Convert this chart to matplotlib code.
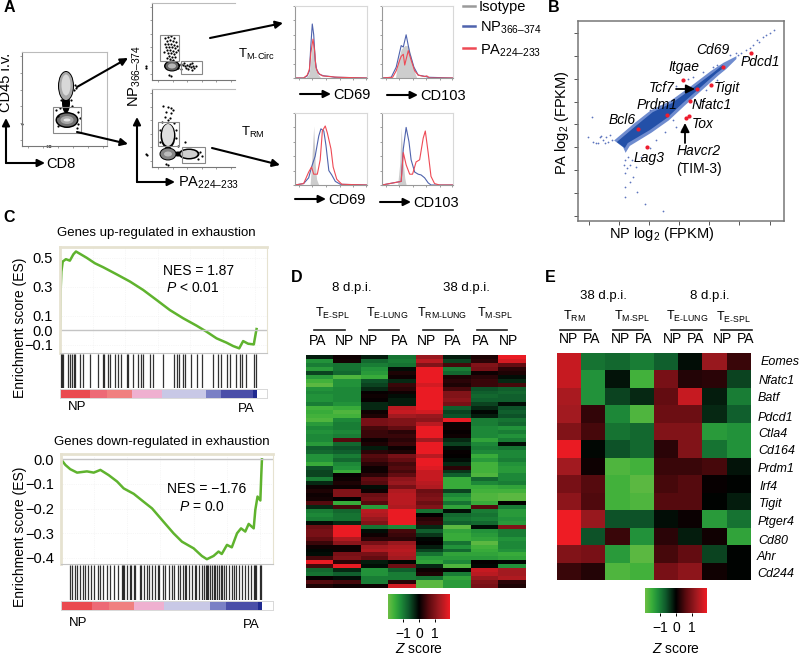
import matplotlib
matplotlib.use('Agg')
import matplotlib.pyplot as plt
from matplotlib.colors import LinearSegmentedColormap
from matplotlib.patches import Ellipse, Rectangle
import numpy as np

plt.rcParams['font.family'] = ['Liberation Sans', 'DejaVu Sans']
plt.rcParams['mathtext.fontset'] = 'custom'
plt.rcParams['mathtext.rm'] = 'Liberation Sans'
plt.rcParams['mathtext.it'] = 'Liberation Sans:italic'
plt.rcParams['mathtext.default'] = 'regular'

W, H = 800, 657
GREEN_LINE = '#5fb32e'
BLUE = '#4f63ad'
RED = '#ee4a55'
GRAY = '#9a9a9a'

########### panel A data ##########################
gate_1 = [(53, 107, 28, 26)]
blobs_1 = [(66, 86, 16, 30, 'black'), (66, 103, 8, 20, 'black'), (67, 120, 23, 16, 'black'),
           (66, 86, 14, 28, '#a8a8a8'), (66, 85, 9, 21, '#d8d8d8'), (67, 120, 20, 13, '#707070'),
           (67, 120, 13, 8, '#a8a8a8'), (67, 120, 7, 3, '#e4e4e4')]
speck_1 = [(56, 110), (58, 126), (78, 112), (80, 118), (77, 128), (75, 85), (74, 90), (76, 88), (22, 124),
           (47, 146), (49, 146), (50, 146), (60, 108), (72, 106), (61, 100), (71, 100), (58, 116), (78, 124)]

gates_2 = [(160, 35, 19, 26), (181, 61, 21, 13)]
blobs_2 = [(172, 66, 16, 11, 'black'), (172, 66, 13, 9, '#666666'), (172, 66, 8, 5, '#b8b8b8')]
speck_2 = [(165, 38), (168, 37), (171, 36), (174, 38), (167, 41), (170, 40), (173, 41), (176, 42), (165, 44),
           (168, 44), (171, 44), (174, 45), (166, 47), (169, 47), (172, 47), (175, 48), (178, 50), (167, 50),
           (170, 50), (173, 51), (176, 52), (168, 53), (171, 53), (174, 54), (169, 56), (172, 57), (175, 57),
           (170, 59), (173, 60), (167, 58), (177, 46), (164, 52), (181, 64), (183, 65), (185, 66), (187, 65),
           (189, 66), (191, 67), (193, 66), (186, 68), (184, 63), (190, 64), (194, 68), (188, 69), (192, 63),
           (179, 65), (178, 68), (169, 75), (171, 76), (146, 66), (146, 68), (192, 70), (181, 69), (196, 66)]

gates_3 = [(158, 122, 21, 24), (182, 147, 23, 16)]
blobs_3 = [(168, 136, 15, 25, 'black'), (168, 154, 17, 13, 'black'), (189, 154, 21, 11, 'black'),
           (178, 154, 10, 5, 'black'), (168, 135, 12, 22, '#dedede'), (168, 154, 15, 11, '#858585'),
           (168, 154, 8, 5, '#bcbcbc'), (189, 154, 17, 8, '#cfcfcf')]
speck_3 = [(163, 106), (168, 107), (171, 108), (173, 110), (166, 112), (171, 113), (170, 118), (165, 117),
           (185, 142), (146, 154), (147, 155), (162, 122), (174, 123), (168, 120), (178, 146), (200, 152),
           (202, 156), (198, 159), (166, 164), (168, 165), (160, 130), (176, 130), (176, 138), (160, 142)]

hist_xs = [[[0, 15, 19, 21, 23, 25, 27, 29, 32, 36, 100], [0, 0, 5, 15, 40, 50, 42, 18, 5, 0, 0]],
           [[0, 19, 22, 27, 32, 37, 41, 46, 49, 100], [0, 0, 22, 40, 45, 45, 30, 8, 0, 0]],
           [[0, 21, 23, 26, 28, 30, 33, 100], [0, 0, 30, 82, 30, 8, 0, 0]],
           [[0, 22, 25, 27, 29, 32, 34, 100], [0, 0, 30, 80, 40, 10, 0, 0]]]
hist_np = [[[0, 12, 17, 20, 22, 24, 26, 28, 30, 34, 40, 50, 55, 60, 100], [0, 0, 3, 10, 45, 75, 60, 25, 12, 5, 3, 2, 1, 1, 0]],
           [[0, 13, 20, 27, 30, 34, 39, 45, 51, 62, 65, 100], [0, 1, 15, 45, 43, 60, 35, 15, 4, 2, 1, 0]],
           [[0, 12, 19, 23, 28, 33, 36, 40, 43, 47, 51, 56, 63, 100], [0, 2, 10, 25, 40, 68, 78, 75, 55, 20, 14, 5, 1, 0]],
           [[0, 27, 30, 34, 38, 41, 46, 51, 55, 60, 65, 69, 100], [0, 5, 50, 80, 60, 35, 18, 15, 14, 10, 3, 0, 0]]]
hist_pa = [[[0, 12, 17, 20, 22, 25, 27, 29, 32, 38, 48, 60, 100], [0, 0, 4, 12, 35, 54, 40, 15, 7, 3, 2, 1, 0]],
           [[0, 15, 20, 25, 27, 30, 32, 37, 41, 46, 51, 60, 63, 67, 100], [0, 1, 10, 25, 30, 33, 18, 38, 25, 10, 4, 2, 3, 0, 0]],
           [[0, 12, 19, 23, 26, 31, 35, 38, 42, 45, 50, 53, 58, 65, 100], [0, 2, 18, 25, 15, 15, 35, 75, 82, 72, 50, 25, 8, 1, 0]],
           [[0, 27, 30, 34, 39, 43, 48, 53, 58, 61, 65, 69, 74, 81, 100], [0, 5, 45, 28, 15, 15, 32, 35, 65, 75, 45, 12, 2, 0, 0]]]

########### panel B data ##########################
band_upper_x = [-5.36, -2.04, 0.61, 3.76, 7.24, 10.55, 12.2]
band_upper_y = [-3.85, -0.15, 2.69, 4.65, 7.93, 11.2, 12.95]
band_lower_x = [12.54, 11.2, 8.4, 5.58, 2.93, 0.11, -3.54, -4.03]
band_lower_y = [12.5, 11.2, 7.93, 4.65, 1.38, -1.24, -4.07, -5.16]
fringe_upper_x = [-5.8, -2.4, 0.3, 3.5, 7.0, 10.3, 12.4, 14.5]
fringe_upper_y = [-3.5, 0.3, 3.1, 5.1, 8.4, 11.7, 13.5, 14.9]
fringe_lower_x = [14.5, 12.8, 11.5, 8.7, 5.9, 3.3, 0.4, -3.2, -3.9, -4.3]
fringe_lower_y = [14.3, 12.1, 10.7, 7.4, 4.1, 0.9, -1.8, -4.7, -6.2, -5.0]
sparse_x = [-10.2, -9.4, -9.3, -8.5, -7.6, -7.9, -6.8, -7.1, -8.2, -6.2, -6.5, -8.8, -7.3, -4, -4, -3.2, -4, -2.7, -2,
            -0.6, 2.3, -2.9, -3.5, -3.6, -4.2, -3.2, -4, -2.2, -1.3, 0.1, 1.2, 2.6, 4.5, 5.4, 4, 7.8, 8.7, 11.2, 9.5,
            0.1, 1.8, 4.5, 6.5, 7.3, 9, 11.2, 10.6, 13.4, 14.5, 14.8, 15.3, 16.1, 17.2, 18.3, 19.4, 20.8, 20, 15.9,
            16.7, 17.9, 18.9]
sparse_y = [-2.7, 1.7, -3.8, -4.1, -3.4, -2.5, -3.8, -2.7, -2.8, -3.3, -2.3, -4, -4.1, -7.8, -10.7, -8.9, -13.6, -11.4,
            -14.7, -17.4, -19, -7.8, -7.1, -9.6, -8.9, -12.5, -15.8, -9.2, -7.1, -5.2, -3.4, -1.6, -0.5, -0.9, 0.9,
            4.6, 5.3, 9.7, 7.5, 3.1, 4, 8.4, 10, 10.4, 11.5, 12.9, 12.6, 15.1, 15.5, 15.1, 15.5, 16.2, 17.3, 18, 19.5,
            20.7, 20, 14.8, 16.6, 18.4, 19.1]
gene_x = [16.9, 12.3, 5.6, 8, 10.3, 6.85, 2.9, 6.7, 6.1, -1.9, -0.4]
gene_y = [15.5, 12.65, 9.8, 7.85, 8.6, 5.1, 1.96, 1.8, 1.4, -0.9, -4.9]
log_ticks_x = [-10, -5, 0, 5, 10, 15, 20]
log_ticks_y = [-20, -15, -10, -5, 0, 5, 10, 15, 20]

########### panel C data ##########################
up_rank = [0, 0.3, 0.7, 1.4, 3, 5, 6.8, 8.1, 11, 13.5, 17.7, 22, 28.7, 35.5, 42.2, 49, 55.7, 62.5, 69.3, 74.3, 79.4,
           84.5, 87.8, 90.9, 92.9, 95.4, 98.3, 99.3, 99.7]
up_es = [0, 0.267, 0.405, 0.474, 0.49, 0.48, 0.524, 0.543, 0.52, 0.50, 0.462, 0.434, 0.386, 0.336, 0.278, 0.209, 0.14,
         0.083, 0.032, -0.009, -0.055, -0.085, -0.108, -0.124, -0.074, -0.092, -0.097, -0.02, 0.009]
up_hits = [0.3, 0.8, 1.4, 4.2, 5.1, 5.9, 7.1, 7.6, 10.1, 11.8, 15.2, 19.4, 21.6, 22.3, 24.5, 25.3, 27.9, 29.6, 30.7,
           33.8, 34.6, 37.2, 39.7, 40.9, 42.2, 45.6, 47.3, 52.4, 57.8, 59.1, 60.5, 62.2, 63.3, 66.7, 69.3, 71.8, 77.7,
           80.2, 81.9, 84.5, 86.1, 89.5, 91.5, 92.2, 94.6, 98.3, 99.3]
down_rank = [0, 2.2, 4.6, 8, 12.9, 16.3, 19.6, 23.7, 27.9, 31.2, 36.2, 41.1, 45.3, 51, 56, 60.2, 66, 70.1, 72.6, 75.9,
             78.4, 80, 82.6, 85, 87.6, 89.6, 91.7, 93.4, 95.9, 96.7, 97.8, 99.2, 99.7, 100]
down_es = [0, -0.023, -0.04, -0.054, -0.049, -0.054, -0.043, -0.064, -0.09, -0.118, -0.14, -0.172, -0.199, -0.253,
           -0.3, -0.334, -0.361, -0.392, -0.405, -0.392, -0.374, -0.384, -0.347, -0.357, -0.3, -0.28, -0.293, -0.262,
           -0.28, -0.205, -0.151, -0.167, -0.057, 0]
down_hits = [4.3, 5.5, 7, 8.2, 9.5, 11, 12, 13.5, 15, 16.5, 18.5, 19.2, 21, 23, 24.5, 26.5, 28.5, 30.5, 31, 31.6, 33,
             34.5, 35, 36.3, 37, 39.5, 40, 41.5, 43, 44, 45.5, 47, 48.5, 49, 51, 52, 53.5, 55, 56, 58, 59, 60.5, 61.5,
             62, 63.5, 65, 66.5, 67, 68.5, 70, 71, 72, 72.5, 73.3, 74, 75, 76, 76.5, 77.5, 78.5, 79.5, 80, 81, 82,
             83.5, 85, 86, 87, 88.5, 90, 91.5, 93, 94.5, 96, 96.5, 97, 99, 99.6]
strip_edges = [0, 15.2, 23.7, 36.3, 51.5, 74.3, 81.9, 98, 100]
strip_colors = ['#ea4a4f', '#ed6a76', '#f08080', '#efb0d0', '#c8c8e6', '#7a80c5', '#4a4ea8', '#202a90']

########### panel D data ##########################
d_cols = ['PA', 'NP', 'NP', 'PA', 'NP', 'PA', 'PA', 'NP']
d_matrix = [
    [-0.2, 0.1, -0.2, -0.9, 1.2, -0.2, 0.2, 1.9], [-1.2, 0.15, -0.8, -1.0, 1.5, -0.5, 0.3, 1.7],
    [-1.0, -0.9, -1.0, -0.9, 1.0, 0.5, 1.0, 0.7], [-1.3, -0.9, -1.2, -0.1, 1.9, -1.0, 0.9, 0.3],
    [-0.5, -0.8, -1.3, 0.2, 1.9, -0.8, 0.1, 0.2], [-1.3, -1.7, -1.5, 0.1, 1.9, 0.2, 0.3, -0.1],
    [-1.6, -1.2, -0.6, -0.3, 1.9, 0.3, 0.4, -0.3], [-1.8, -1.2, -0.5, 0.4, 1.7, 0.2, 0.4, 0.5],
    [-1.2, -1.1, -0.3, 0.3, 1.9, 0.5, -0.6, -0.7], [-1.1, -1.1, 0.05, 0.1, 1.9, 1.0, -0.7, -0.8],
    [-1.2, -1.1, 0.1, -0.1, 1.9, 1.0, -0.8, -0.7], [-1.2, -1.1, 0.05, -0.2, 1.9, 1.1, -0.7, -0.7],
    [-1.0, -1.2, -0.3, -0.2, 1.9, 0.9, -0.5, -0.1], [-1.6, -1.5, -0.3, 1.5, 1.9, -0.7, -0.3, -0.6],
    [-1.5, -1.7, 0.1, 1.6, 1.7, -0.5, -0.05, -0.7], [-1.6, -1.6, 0.2, 1.3, 1.2, -0.6, -0.2, -0.6],
    [-1.7, -1.1, 0.9, 1.0, 1.1, 1.9, -1.0, -0.9], [-1.3, -1.0, 0.9, 1.0, 1.5, 0.1, -1.0, -0.8],
    [-1.1, -1.0, 0.5, 0.7, 1.9, 0.1, -1.1, -1.2], [-1.2, -1.1, 0.4, 0.3, 1.9, 0.05, -1.1, -1.0],
    [-1.1, -1.0, 0.4, 0.4, 1.9, 0.1, -1.1, -1.2], [-1.1, 0.6, 0.1, 0.3, 1.3, -0.3, -1.4, -1.0],
    [-1.3, -0.8, 0.2, 0.4, 1.9, -0.5, -1.1, -0.1], [-0.7, -0.6, -0.2, 0.1, 1.9, -0.1, -1.0, -0.9],
    [-0.8, -0.7, 0.3, 0.2, 1.9, 0.05, -1.1, -1.1], [-1.2, -1.0, 0.6, 0.9, 1.5, 0.02, -1.5, -1.1],
    [-1.2, -0.8, 0.5, 0.7, 1.9, -0.1, -1.3, -1.0], [-1.5, -1.1, 0.3, 0.5, 1.9, -0.3, -1.6, -1.2],
    [-0.6, -1.2, 0.1, 0.6, 1.8, 0.3, -1.6, -1.3], [-0.5, -1.5, 0.1, 0.5, 1.6, -0.4, -1.6, -1.3],
    [-0.5, 0.05, 0.3, 0.7, 1.6, -0.7, -1.7, -1.1], [-1.0, 0.1, 0.7, 1.1, 1.6, -1.5, -0.8, -1.1],
    [-0.3, 0.2, 0.6, 1.2, 1.5, -1.5, -1.1, -1.0], [0.1, 0.1, -0.1, 0.9, 1.4, -1.5, -1.5, -1.4],
    [0.2, 1.0, 0.1, 1.4, 0.8, -0.5, -1.6, -1.6], [0.1, 1.0, 0.8, 1.5, 0.9, -1.1, -1.7, -1.8],
    [0.15, 0.02, 0.9, 1.5, 1.0, -1.3, -1.7, -1.8], [0.6, -1.5, 0.6, 1.5, 0.8, -0.9, -1.5, 0.02],
    [-0.3, 0.5, -1.3, 1.4, 1.0, -1.4, 0.6, -1.0], [-1.0, -0.8, 1.5, 1.9, -0.9, -0.1, -1.0, -1.3],
    [-1.1, -0.9, 1.4, 1.9, 0.02, -0.8, -0.9, -1.3], [-1.0, -0.9, 1.2, 1.9, 0.3, -0.9, -1.0, -1.2],
    [-0.1, -0.3, 1.0, 1.9, 0.4, -0.7, -0.8, -1.3], [0.8, 1.9, -0.9, -1.1, -0.3, -1.8, -0.1, 1.0],
    [0.9, 1.9, -0.1, 0.5, -0.7, -1.4, -1.2, -1.0], [0.9, 1.9, 0.1, 0.4, -0.4, -1.5, -1.3, -1.0],
    [0.7, 1.4, 0.3, 0.3, -0.05, -1.5, -1.4, -1.2], [0.4, 1.1, 0.9, 1.2, 0.02, -0.9, -1.8, -1.1],
    [0.1, 0.1, 1.3, 1.4, -0.2, -1.2, -1.6, -1.1], [-0.05, 0.1, 1.4, 1.5, -0.5, -0.8, -1.5, -1.2],
    [-0.1, 0.9, 0.9, 1.4, -0.9, -1.4, -1.4, -1.5], [0.5, 1.0, 0.7, 1.3, -1.3, -1.3, -1.3, -1.4],
    [1.9, 0.3, -0.2, -0.05, -1.4, -1.1, 0.02, -0.05], [0.5, 1.9, -0.1, 0.8, -0.3, -1.7, -0.05, -1.2],
    [-0.8, -0.3, -1.2, -0.7, 0.1, -0.05, 1.6, 1.3], [-0.9, -0.7, -1.2, -1.0, 0.2, -1.0, 1.5, 1.3],
    [0.05, -0.1, -1.0, -1.0, -0.9, -1.4, 1.2, 1.4], [0.6, 0.5, -1.0, 0.3, -1.8, -1.3, 1.0, 0.3],
    [0.2, 0.1, 0.1, 1.7, -1.8, -1.3, 0.9, 0.2]]

########### panel E data ##########################
e_genes = ['Eomes', 'Nfatc1', 'Batf', 'Pdcd1', 'Ctla4', 'Cd164', 'Prdm1', 'Irf4', 'Tigit', 'Ptger4', 'Cd80', 'Ahr', 'Cd244']
e_cols = ['NP', 'PA', 'NP', 'PA', 'NP', 'PA', 'NP', 'PA']
e_matrix = [
    [1.6, -0.9, -0.8, -1.0, -0.7, -0.1, 1.2, 0.4],
    [1.6, -1.2, -0.15, -1.6, 0.9, 0.25, 0.3, -0.5],
    [1.35, -1.2, -0.5, -0.3, 0.7, 1.6, -0.2, -1.0],
    [1.3, 0.35, -1.1, -1.7, 0.8, 0.8, -0.3, -0.7],
    [1.0, 0.5, -0.9, -0.8, 1.0, 1.0, -1.3, -1.2],
    [1.9, -0.05, -0.6, -0.8, 0.3, 1.0, -0.9, -1.2],
    [1.3, 0.1, -1.7, -1.6, 0.4, 0.4, 0.5, -0.15],
    [0.9, 0.6, -1.6, -1.8, 0.5, 0.6, 0.05, -0.02],
    [1.1, 0.55, -1.6, -1.7, 0.6, 0.6, -0.02, -0.2],
    [1.95, 1.2, -0.6, -0.6, -0.1, 0.08, -1.3, -0.9],
    [1.95, -0.6, 0.4, -1.2, 0.3, -0.2, 0.12, -1.4],
    [1.0, 0.9, -1.3, -1.8, 0.5, 0.7, -0.5, -0.02],
    [0.4, 0.25, -1.7, -1.6, 0.9, 1.1, 0.12, -0.02]]
z_ticks = [-1, 0, 1]

cmap = LinearSegmentedColormap.from_list('gbr', [(0.0, '#6cbd45'), (0.1, '#3cb03a'), (0.2, '#1f8f3a'), (0.33, '#0f5a2c'),
                                                 (0.5, '#000000'), (0.67, '#5e0b10'), (0.83, '#a01a20'), (1.0, '#ee1c24')])


def px_axes(x0, y0, x1, y1):
    """axes from a pixel box, y counted from the top"""
    return fig.add_axes([x0 / W, 1 - y1 / H, (x1 - x0) / W, (y1 - y0) / H])


def flow_plot(box, gates, blobs, specks):
    x0, y0, x1, y1 = box
    ax = px_axes(x0, y0, x1, y1)
    ax.set_xlim(x0, x1)
    ax.set_ylim(y1, y0)
    for cx, cy, w, h, c in blobs:
        ax.add_patch(Ellipse((cx, cy), w, h, fc=c, ec='none'))
    sx, sy = zip(*specks)
    ax.scatter(sx, sy, s=2.5, c='black', lw=0, clip_on=False)
    for gx, gy, gw, gh in gates:
        ax.add_patch(Rectangle((gx, gy), gw, gh, fill=False, ec='#888888', lw=0.8))
    ax.set_xticks(np.linspace(x0 + 6, x1 - 4, 6))
    ax.set_yticks(np.linspace(y0 + 4, y1 - 6, 6))
    ax.tick_params(length=1.2, width=0.5, labelbottom=False, labelleft=False, color='#777777')
    for s in ax.spines.values():
        s.set_color('#bbbbbb')
        s.set_linewidth(0.8)
    ax.spines['left'].set_color('#777777')
    ax.spines['bottom'].set_color('#777777')
    ax.spines['right'].set_visible(box[2] < 120)
    return ax


def hist_plot(box, iso, np_h, pa_h):
    ax = px_axes(*box)
    ax.fill_between(iso[0], iso[1], color='#cdcdcd', lw=0)
    ax.plot(np_h[0], np_h[1], color=BLUE, lw=0.8)
    ax.plot(pa_h[0], pa_h[1], color=RED, lw=0.8)
    ax.set_xlim(0, 100)
    ax.set_ylim(0, 100)
    ax.set_xticks([5, 24, 43, 62, 81, 98])
    ax.set_yticks([0, 20, 40, 60, 80, 100])
    ax.tick_params(length=1.2, width=0.5, labelbottom=False, labelleft=False, color='#777777')
    for s in ax.spines.values():
        s.set_color('#d8d8d8')
        s.set_linewidth(0.8)
    ax.spines['left'].set_color('#999999')
    ax.spines['bottom'].set_color('#999999')


def gsea_plot(box_es, box_hits, box_strip, x_end, rank, es, hits, ylim, yticks, ylabels):
    ax = px_axes(*box_es)
    ax.plot(rank, es, color=GREEN_LINE, lw=1.8, solid_joinstyle='round')
    ax.axhline(0, color='#c4c4c4', lw=1)
    ax.set_xlim(0, x_end)
    ax.set_ylim(*ylim)
    ax.set_xticks(np.arange(0, 100, 16.5))
    ax.grid(color='#efefef', lw=0.5, ls=':')
    ax.set_yticks(yticks)
    ax.set_yticklabels(ylabels, fontsize=10.5)
    ax.tick_params(length=0, labelbottom=False, pad=5)
    for k in ['left', 'top']:
        ax.spines[k].set_color('#e6e2d0')
        ax.spines[k].set_linewidth(2)
    ax.spines['right'].set_color('#e6e2d0')
    ax.spines['bottom'].set_color('#c4c4c4')

    ax2 = px_axes(*box_hits)
    ax2.vlines(hits, 0, 1, color='black', lw=0.9, alpha=0.8)
    ax2.set_xlim(0, x_end)
    ax2.set_ylim(0, 1)
    ax2.axis('off')

    ax3 = px_axes(*box_strip)
    ax3.barh(0, np.diff(strip_edges), left=strip_edges[:-1], height=1, color=strip_colors, lw=0)
    ax3.set_xlim(0, x_end)
    ax3.set_ylim(-0.5, 0.5)
    ax3.set_xticks([])
    ax3.set_yticks([])
    for s in ax3.spines.values():
        s.set_color('#d8d8d8')
        s.set_linewidth(0.7)


def z_bar(box):
    ax = px_axes(*box)
    ax.imshow(np.linspace(-1.94, 1.94, 128).reshape(1, -1), aspect='auto', cmap=cmap, vmin=-1.94, vmax=1.94,
              extent=[-1.94, 1.94, 0, 1])
    ax.set_yticks([])
    ax.set_xticks(z_ticks)
    ax.set_xticklabels(['\u22121', '0', '1'], fontsize=10)
    ax.tick_params(length=2.5, width=0.7, pad=3)
    for s in ax.spines.values():
        s.set_visible(False)


fig = plt.figure(figsize=(W / 100, H / 100), dpi=100)

########### A ##########################
flow_plot((22, 52, 107, 146), gate_1, blobs_1, speck_1)
flow_plot((152, 3, 235, 80), gates_2, blobs_2, speck_2)
flow_plot((152, 89, 235, 167), gates_3, blobs_3, speck_3)

hist_boxes = [(295, 6, 367, 78), (382, 6, 453, 78), (295, 113, 367, 185), (382, 113, 453, 185)]
for i in range(4):
    hist_plot(hist_boxes[i], hist_xs[i], hist_np[i], hist_pa[i])

########### B ##########################
axb = px_axes(578, 21, 784, 221)
axb.fill(fringe_upper_x + fringe_lower_x, fringe_upper_y + fringe_lower_y, color='#6f8ccf', lw=0)
axb.fill(band_upper_x + band_lower_x, band_upper_y + band_lower_y, color='#2350a8', lw=0)
axb.scatter(sparse_x, sparse_y, s=1.6, color='#5d75bd', lw=0)
axb.scatter(gene_x, gene_y, s=9, color='#ee1c2e', lw=0, zorder=3)
axb.set_xlim(-11.8, 22.4)
axb.set_ylim(-21.1, 22.6)
axb.set_xticks(log_ticks_x)
axb.set_yticks(log_ticks_y)
axb.tick_params(labelbottom=False, labelleft=False, length=3, width=0.7, color='#555555')
for s in axb.spines.values():
    s.set_color('#777777')
    s.set_linewidth(1.1)

########### C ##########################
gsea_plot((60, 247, 267, 353), (60, 354, 267, 388), (60, 389, 267, 398), 105, up_rank, up_es, up_hits,
          (-0.156, 0.574), [0.5, 0.3, 0.1, 0.0, -0.1], ['0.5', '0.3', '0.1', '0.0', '\u22120.1'])
gsea_plot((61, 454, 273, 564), (61, 565, 273, 600), (61, 601, 273, 610), 105.5, down_rank, down_es, down_hits,
          (-0.4245, 0.0215), [0.0, -0.1, -0.2, -0.3, -0.4], ['0.0', '\u22120.1', '\u22120.2', '\u22120.3', '\u22120.4'])

########### D ##########################
axd = px_axes(305.5, 355, 525, 588)
axd.imshow(d_matrix, aspect='auto', cmap=cmap, vmin=-1.94, vmax=1.94, interpolation='nearest')
axd.axis('off')
z_bar((388, 594, 450, 619))

########### E ##########################
axe = px_axes(557, 353, 751, 580)
axe.imshow(e_matrix, aspect='auto', cmap=cmap, vmin=-1.94, vmax=1.94, interpolation='nearest')
axe.axis('off')
z_bar((645, 588, 707, 613))

########### labels and arrows in one pixel overlay ##########################
ov = fig.add_axes([0, 0, 1, 1], zorder=10)
ov.set_xlim(0, W)
ov.set_ylim(H, 0)
ov.axis('off')
ov.patch.set_alpha(0)


def txt(x, y, s, size=10, ha='center', **kw):
    ov.text(x, y, s, fontsize=size, ha=ha, va='center', **kw)


def arrow(x0, y0, x1, y1, lw=1.5, ms=11):
    ov.annotate('', xy=(x1, y1), xytext=(x0, y0),
                arrowprops=dict(arrowstyle='-|>', color='black', lw=lw, mutation_scale=ms, shrinkA=0, shrinkB=0))


for lab, x, y in [('A', 9, 8), ('B', 554, 7), ('C', 9, 217), ('D', 297, 278), ('E', 550, 278)]:
    txt(x, y, lab, size=11.5, fontweight='bold')

# A
txt(6, 82, 'CD45 i.v.', rotation=90, size=10.5)
arrow(6, 163, 6, 118)
arrow(6, 163, 45, 163)
txt(46, 164, 'CD8', ha='left', size=10.5)
txt(135, 76, 'NP$_{366\u2013374}$', rotation=90, size=10.5)
arrow(137, 182, 137, 117)
arrow(137, 182, 175, 182)
txt(178, 183, 'PA$_{224\u2013233}$', ha='left', size=10.5)
arrow(77, 87, 128, 58)
arrow(77, 132, 128, 144)
arrow(210, 38, 283, 23)
arrow(212, 148, 280, 165)
txt(238, 54, 'T$_{M\u2011Circ}$', ha='left', size=9.5)
txt(241, 132, 'T$_{RM}$', ha='left', size=9.5)
for x0, y, s in [(300, 94, 'CD69'), (387, 95, 'CD103'), (295, 199, 'CD69'), (380, 202, 'CD103')]:
    arrow(x0, y, x0 + 31, y)
    txt(x0 + 33, y + 1, s, ha='left', size=10.5)
ov.plot([463, 475], [6, 6], color=GRAY, lw=1.8)
ov.plot([463, 475], [26, 26], color=BLUE, lw=1.8)
ov.plot([463, 475], [48, 48], color=RED, lw=1.8)
txt(479, 7, 'Isotype', ha='left', size=10.5)
txt(480, 28, 'NP$_{366\u2013374}$', ha='left', size=10.5)
txt(480, 51, 'PA$_{224\u2013233}$', ha='left', size=10.5)

# B
for x, y, s in [(713, 50, 'Cd69'), (760, 62, 'Pdcd1'), (684, 67, 'Itgae'), (662, 88, 'Tcf7'), (727, 88, 'Tigit'),
                (657, 105, 'Prdm1'), (712, 105, 'Nfatc1'), (622, 120, 'Bcl6'), (703, 124, 'Tox'), (649, 158, 'Lag3'),
                (699, 151, 'Havcr2')]:
    txt(x, y, s, size=10, style='italic')
txt(699, 169, '(TIM-3)', size=10)
arrow(676, 89, 695, 89, lw=1.3, ms=13)
arrow(685, 143, 685, 123, lw=1.3, ms=13)
txt(562, 123, 'PA log$_{2}$ (FPKM)', rotation=90, size=10.5)
txt(662, 234, 'NP log$_{2}$ (FPKM)', size=10.5)

# C
txt(156, 233, 'Genes up-regulated in exhaustion', size=9.5)
txt(20, 328, 'Enrichment score (ES)', rotation=90, size=10)
txt(199, 271, 'NES = 1.87')
txt(166, 288, '$\\mathit{P}$ < 0.01', ha='left')
txt(77, 407, 'NP', size=9.5)
txt(246, 409, 'PA', size=9.5)
txt(162, 442, 'Genes down-regulated in exhaustion', size=9.5)
txt(20, 537, 'Enrichment score (ES)', rotation=90, size=10)
txt(207, 489, 'NES = \u22121.76')
txt(202, 507, '$\\mathit{P}$ = 0.0')
txt(78, 623, 'NP', size=9.5)
txt(251, 625, 'PA', size=9.5)

# D
txt(352, 288, '8 d.p.i.', size=9.5)
txt(466, 288, '38 d.p.i.', size=9.5)
for x, s in [(332, 'T$_{E\u2011SPL}$'), (387, 'T$_{E\u2011LUNG}$'), (442, 'T$_{RM\u2011LUNG}$'), (495, 'T$_{M\u2011SPL}$')]:
    txt(x, 313, s, size=9)
for x0, x1 in [(314, 345), (369, 399), (423, 453), (477, 507)]:
    ov.plot([x0, x1], [330, 330], color='#222222', lw=1.2)
for x, s in zip([318, 345, 369, 400, 426, 453, 481, 508], d_cols):
    txt(x, 341, s, size=10)
txt(419, 649, '$\\mathit{Z}$ score', size=10)

# E
txt(603, 296, '38 d.p.i.', size=9.5)
txt(710, 296, '8 d.p.i.', size=9.5)
for x, y, s in [(574, 316, 'T$_{RM}$'), (632, 316, 'T$_{M\u2011SPL}$'), (687, 316, 'T$_{E\u2011LUNG}$'), (733, 317, 'T$_{E\u2011SPL}$')]:
    txt(x, y, s, size=9)
for x0, x1 in [(560, 591), (613, 643), (671, 702), (721, 752)]:
    ov.plot([x0, x1], [330, 330], color='#222222', lw=1.2)
for x, s in zip([568, 592, 621, 644, 673, 696, 723, 746], e_cols):
    txt(x, 339, s, size=10)
gene_label_x = [761, 759, 758, 758, 758, 758, 758, 759, 759, 758, 758, 757, 757]
gene_label_y = [362, 381, 398, 418, 434, 451, 469, 487, 504, 522, 541, 557, 574]
for x, y, s in zip(gene_label_x, gene_label_y, e_genes):
    txt(x, y, s, size=9, ha='left', style='italic')
txt(676, 649, '$\\mathit{Z}$ score', size=10)

fig.savefig('out.png', dpi=100)
